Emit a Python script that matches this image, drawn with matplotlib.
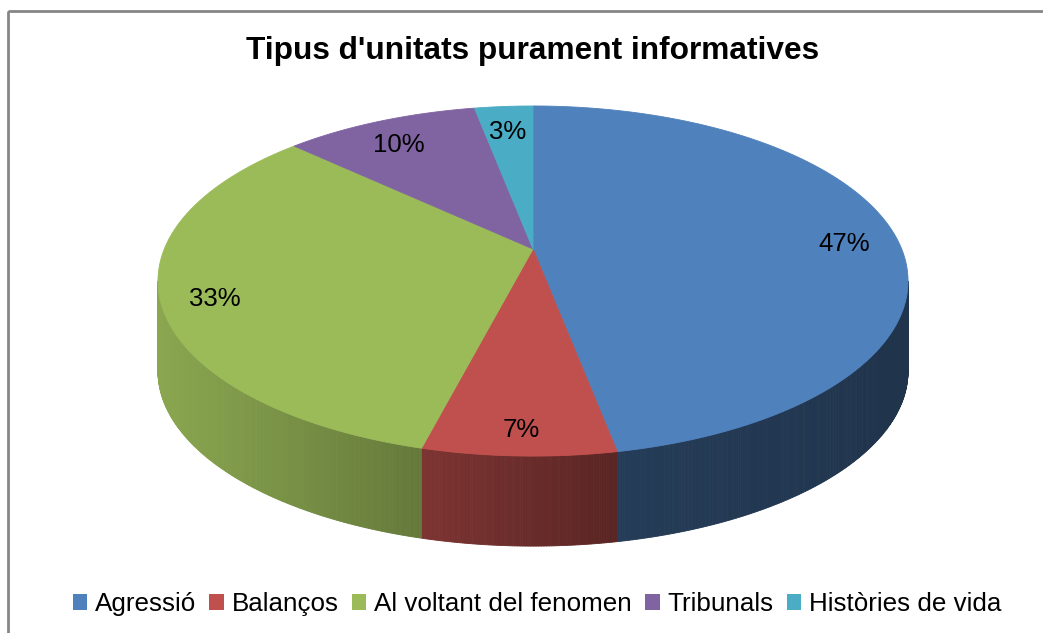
import numpy as np
import matplotlib
matplotlib.use("Agg")
import matplotlib.pyplot as plt
from matplotlib.patches import Polygon, Rectangle, Patch
from matplotlib.collections import PolyCollection
from matplotlib.colors import to_rgb

# ---- data ----
title = "Tipus d'unitats purament informatives"
categories = ["Agressió", "Balanços", "Al voltant del fenomen", "Tribunals", "Històries de vida"]
values = [47, 7, 33, 10, 3]
labels = ["47%", "7%", "33%", "10%", "3%"]
colors = ["#4F81BD", "#C0504D", "#9BBB59", "#8064A2", "#4BACC6"]

# ---- geometry / style ----
W, H = 1043, 633
CX, CY = 533.0, 249.0
RX, RY = 368.7, 169.2
K = 0.183
DEPTH = 90.0
LABEL_R = 0.86
LABEL_DY = 8.0
FONT = ["Liberation Sans", "DejaVu Sans"]

plt.rcParams['font.family'] = FONT

fig = plt.figure(figsize=(W / 100, H / 100), dpi=100)
ax = fig.add_axes([0, 0, 1, 1])
ax.set_xlim(0, W)
ax.set_ylim(H, 0)
ax.axis("off")


def proj(theta, r=1.0, dz=0.0):
    u = r * np.sin(theta)
    v = r * np.cos(theta)
    w = 1 + K * v
    return CX + RX * u / w, CY - RY * v / w + dz


def shade(x):
    return np.interp(x, [160, 420, 610, 900], [0.89, 0.65, 0.47, 0.40])


total = float(sum(values))
bounds = np.concatenate([[0], np.cumsum(values)]) / total * 2 * np.pi

# visible side range (front)
vis_a = np.arccos(-K)
vis_b = 2 * np.pi - vis_a

# sides
side_polys, side_cols = [], []
for i, c in enumerate(colors):
    a0, a1 = bounds[i], bounds[i + 1]
    s0, s1 = max(a0, vis_a), min(a1, vis_b)
    if s1 <= s0:
        continue
    n = max(2, int(np.degrees(s1 - s0) * 3))
    ts = np.linspace(s0, s1, n + 1)
    base = np.array(to_rgb(c))
    for t0, t1 in zip(ts[:-1], ts[1:]):
        x0, y0 = proj(t0)
        x1, y1 = proj(t1)
        side_polys.append([(x0, y0), (x1, y1), (x1, y1 + DEPTH), (x0, y0 + DEPTH)])
        side_cols.append(tuple(base * shade((x0 + x1) / 2)))
pc = PolyCollection(side_polys, facecolors=side_cols, edgecolors=side_cols, linewidths=0.6)
ax.add_collection(pc)

# top faces
for i, c in enumerate(colors):
    a0, a1 = bounds[i], bounds[i + 1]
    ts = np.linspace(a0, a1, max(3, int(np.degrees(a1 - a0) * 2)))
    xs, ys = proj(ts)
    pts = [(CX, CY)] + list(zip(xs, ys))
    ax.add_patch(Polygon(pts, closed=True, facecolor=c, edgecolor=c, linewidth=0.6))

# labels
for i, lab in enumerate(labels):
    mid = (bounds[i] + bounds[i + 1]) / 2
    x, y = proj(mid, LABEL_R)
    ax.text(x, y + LABEL_DY, lab, ha="center", va="center", fontsize=18.5, color="black")

# title
ax.text(533, 51, title, ha="center", va="center", fontsize=22.8, fontweight="bold", color="black")

# frame
ax.add_patch(Rectangle((8, 11), W + 50, H + 50, fill=False, edgecolor="#868686", linewidth=2, clip_on=True))

# legend
handles = [Patch(facecolor=c, edgecolor="none") for c in colors]
leg = fig.legend(handles, categories, loc="center", bbox_to_anchor=(537 / W, 1 - 604 / H),
                 ncol=5, frameon=False, fontsize=18.75, handlelength=0.56, handleheight=0.56,
                 handletextpad=0.3, columnspacing=0.5, borderpad=0, borderaxespad=0)

fig.savefig("out.png", dpi=100)
